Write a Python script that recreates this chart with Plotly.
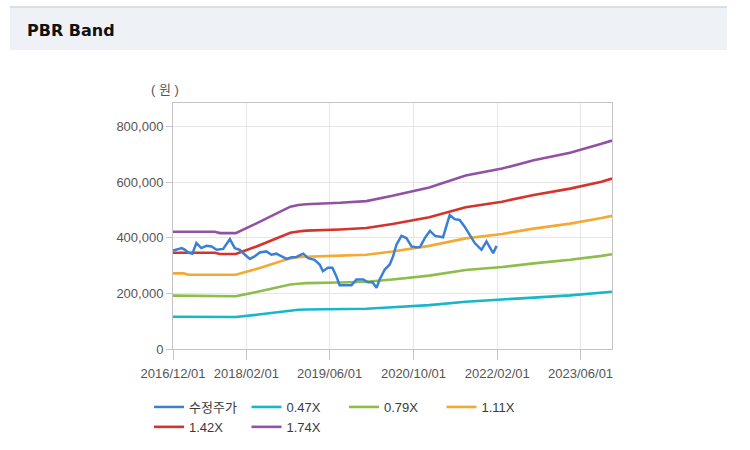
import plotly.graph_objects as go

# ---------------- data ----------------
price_dates = [
    "2016-12-01", "2017-01-21", "2017-02-09", "2017-02-28", "2017-03-24", "2017-04-16",
    "2017-05-15", "2017-06-14", "2017-07-13", "2017-08-12", "2017-09-19", "2017-10-28",
    "2017-11-26", "2017-12-25", "2018-01-24", "2018-02-22", "2018-03-21", "2018-04-20",
    "2018-05-29", "2018-06-27", "2018-07-26", "2018-08-24", "2018-09-23", "2018-10-22",
    "2018-11-20", "2018-12-29", "2019-01-27", "2019-03-05", "2019-04-04", "2019-04-23",
    "2019-05-22", "2019-06-17", "2019-07-10", "2019-07-29", "2019-10-06", "2019-11-04",
    "2019-12-13", "2020-01-11", "2020-02-06", "2020-02-29", "2020-03-18", "2020-04-17",
    "2020-05-16", "2020-06-04", "2020-06-24", "2020-07-23", "2020-08-21", "2020-09-20",
    "2020-10-15", "2020-11-08", "2020-12-06", "2021-01-05", "2021-02-04", "2021-03-22",
    "2021-04-11", "2021-04-30", "2021-05-29", "2021-06-27", "2021-07-26", "2021-08-25",
    "2021-09-23", "2021-11-01", "2021-11-30", "2022-01-08", "2022-01-28",
]
price_values = [
    354000, 363000, 357000, 347000, 343000, 381000,
    363000, 371000, 369000, 357000, 360000, 395000,
    363000, 357000, 339000, 324000, 333000, 347000,
    351000, 339000, 343000, 333000, 324000, 330000,
    331000, 343000, 327000, 321000, 304000, 280000,
    292000, 292000, 262000, 229000, 229000, 250000,
    250000, 240000, 240000, 220000, 250000, 286000,
    304000, 333000, 375000, 407000, 399000, 369000,
    366000, 367000, 399000, 425000, 407000, 402000,
    443000, 482000, 467000, 464000, 440000, 411000,
    381000, 357000, 387000, 345000, 371000,
]

band_dates = [
    "2016-12-01", "2017-02-01", "2017-03-01", "2017-08-01", "2017-09-01", "2017-12-01",
    "2018-04-01", "2018-08-15", "2018-10-15", "2018-12-01", "2019-01-15", "2019-08-01",
    "2020-01-01", "2020-06-01", "2021-01-01", "2021-08-01", "2022-03-01", "2022-09-01",
    "2023-04-01", "2023-10-01", "2023-12-01",
]
band_047 = [116000, 116000, 116000, 116000, 115000, 115000,
            123000, 134000, 139000, 141000, 142000, 143000,
            145000, 150000, 158000, 170000, 177000, 185000,
            193000, 201000, 206000]
band_079 = [192000, 192000, 192000, 192000, 190000, 190000,
            205000, 224000, 232000, 235000, 237000, 239000,
            242000, 250000, 264000, 284000, 295000, 308000,
            321000, 335000, 341000]
band_111 = [272000, 272000, 267000, 267000, 267000, 267000,
            288000, 315000, 326000, 330000, 332000, 336000,
            339000, 351000, 371000, 398000, 414000, 433000,
            451000, 471000, 479000]
band_142 = [346000, 346000, 346000, 346000, 342000, 342000,
            369000, 403000, 418000, 423000, 426000, 430000,
            435000, 450000, 474000, 510000, 530000, 554000,
            577000, 602000, 613000]
band_174 = [422000, 422000, 422000, 422000, 417000, 417000,
            452000, 494000, 512000, 518000, 521000, 526000,
            532000, 551000, 581000, 624000, 649000, 679000,
            706000, 738000, 750000]

series_names = ["수정주가", "0.47X", "0.79X", "1.11X", "1.42X", "1.74X"]
series_colors = ["#3a7fd3", "#17b6c8", "#8dbd4b", "#f5a935", "#d6332b", "#9152a5"]

x_tick_vals = ["2016-12-01", "2018-02-01", "2019-06-01", "2020-10-01", "2022-02-01", "2023-06-01"]
x_tick_text = ["2016/12/01", "2018/02/01", "2019/06/01", "2020/10/01", "2022/02/01", "2023/06/01"]
y_tick_vals = [0, 200000, 400000, 600000, 800000]
x_range = ["2016-12-01", "2023-12-01"]
y_range = [0, 885000]

# ---------------- layout geometry ----------------
W, H = 750, 450
L, R, T, B = 173, 138, 103, 101
PW, PH = W - L - R, H - T - B


def px(x):
    return (x - L) / PW


def py(y):
    return (H - B - y) / PH


FONT = "Liberation Sans, Arial, Noto Sans CJK KR, sans-serif"

fig = go.Figure()

bands = [band_047, band_079, band_111, band_142, band_174]
for i, vals in enumerate(bands):
    fig.add_trace(go.Scatter(
        x=band_dates, y=vals, mode="lines", name=series_names[i + 1],
        line=dict(color=series_colors[i + 1], width=2.6),
        legendrank=i + 2,
    ))

fig.add_trace(go.Scatter(
    x=price_dates, y=price_values, mode="lines", name=series_names[0],
    line=dict(color=series_colors[0], width=2.5),
    legendrank=1,
))

fig.update_layout(
    width=W, height=H,
    margin=dict(l=L, r=R, t=T, b=B, pad=0, autoexpand=False),
    paper_bgcolor="white",
    plot_bgcolor="white",
    font=dict(family=FONT, size=12, color="#555555"),
    showlegend=True,
    legend=dict(
        orientation="h",
        x=px(539), xanchor="right",
        y=py(392), yanchor="top",
        entrywidth=52.5, entrywidthmode="pixels",
        font=dict(family=FONT, size=13, color="#3a3a3a"),
        bgcolor="rgba(0,0,0,0)",
        tracegroupgap=0,
    ),
    xaxis=dict(
        type="date", range=x_range,
        tickvals=x_tick_vals, ticktext=x_tick_text,
        showgrid=True, gridcolor="#e6e6e6", gridwidth=1,
        showline=True, linecolor="#c4c4c4", linewidth=1, mirror=True,
        ticks="outside", ticklen=10, tickcolor="#c4c4c4",
        ticklabelstandoff=2,
        tickfont=dict(family=FONT, size=13, color="#555555"),
        zeroline=False, fixedrange=True,
    ),
    yaxis=dict(
        range=y_range,
        tickvals=y_tick_vals, tickformat=",d",
        showgrid=True, gridcolor="#e6e6e6", gridwidth=1,
        showline=True, linecolor="#c4c4c4", linewidth=1, mirror=True,
        ticks="outside", ticklen=6, tickcolor="#c4c4c4",
        tickfont=dict(family=FONT, size=13, color="#555555"),
        zeroline=False, fixedrange=True,
    ),
    shapes=[
        dict(type="rect", xref="paper", yref="paper",
             x0=px(10), x1=px(727), y0=py(50), y1=py(7.5),
             fillcolor="#eef2f7", line=dict(width=0), layer="below"),
        dict(type="line", xref="paper", yref="paper",
             x0=px(10), x1=px(727), y0=py(7), y1=py(7),
             line=dict(color="#d4d4d4", width=1.5)),
    ],
    annotations=[
        dict(text="<b>PBR Band</b>", xref="paper", yref="paper",
             x=px(25), y=py(30), xanchor="left", yanchor="middle",
             showarrow=False, font=dict(family="DejaVu Sans, sans-serif", size=16, color="#111111")),
        dict(text="( 원 )", xref="paper", yref="paper",
             x=px(165), y=py(89), xanchor="center", yanchor="middle",
             showarrow=False, font=dict(family=FONT, size=13, color="#555555")),
    ],
)

fig.write_html(
    "out.html",
    config=dict(displayModeBar=False),
    post_script="document.body.style.margin='0';document.body.style.padding='0';",
)
